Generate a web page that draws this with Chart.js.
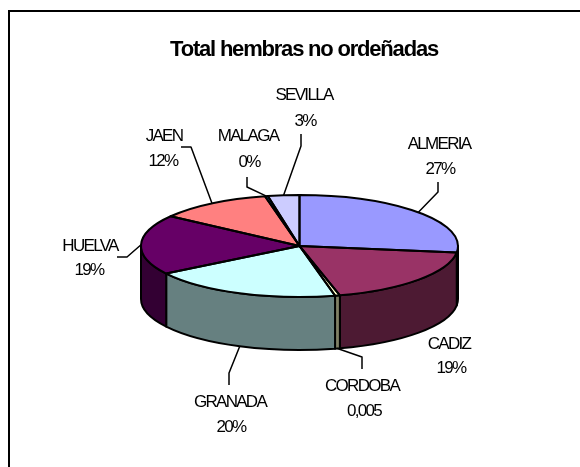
<!DOCTYPE html>
<html>
<head>
<meta charset="utf-8">
<style>
html,body{margin:0;padding:0;background:#fff;overflow:hidden}
#wrap{position:relative;width:580px;height:467px;overflow:hidden}
canvas{position:absolute;left:0;top:0}
#frame{position:absolute;left:8px;top:10px;width:600px;height:500px;border-left:2px solid #000;border-top:2px solid #000}
</style>
<script src="https://cdn.jsdelivr.net/npm/chart.js@4"></script>
</head>
<body>
<div id="wrap"><div id="frame"></div><canvas id="c" width="580" height="467"></canvas></div>
<script>
const titleText = 'Total hembras no ordeñadas';
const categories = ['ALMERIA','CADIZ','CORDOBA','GRANADA','HUELVA','JAEN','MALAGA','SEVILLA'];
const values = [27, 18.9, 0.5, 19.5, 19, 11.6, 0.3, 3.2];
const valueLabels = ['27%','19%','0,005','20%','19%','12%','0%','3%'];
const topColors = ['#9999FF','#993366','#FFFFCC','#CCFFFF','#660066','#FF8080','#0066CC','#CCCCFF'];
const sideColors = ['#4D4D80','#4D1A33','#808066','#668080','#330033','#804040','#003366','#666680'];
// label layout: centre x, first line y, second line x, second line y
const labelX  = [439,449,362,230,90,164,248,304];
const labelY  = [144,344,386,402,246,136,136,95];
const valueX  = [440,451,364,231,89,163,249,305];
const valueY  = [169,368,411,427,270,161,162,121];
// leader: elbow then end near the label (null = no leader)
const leaders = [
  [[438,192],[438,182]], null, [[362,357],[362,369]], [[229,373],[229,385]],
  [[127,257],[117,257]], [[191,147],[181,147]], [[247,187],[247,177]], [[301,146],[301,134]]
];
const squash = 51/158.5, depth = 53;

const pie3d = {
  id:'pie3d',
  beforeDatasetsDraw(chart){
    const ctx = chart.ctx, arcs = chart.getDatasetMeta(0).data;
    ctx.save();
    ctx.lineWidth = 2; ctx.strokeStyle = '#000'; ctx.lineJoin='round';
    arcs.forEach((el,i)=>{
      const {x,y,outerRadius:r,startAngle,endAngle} = el.getProps(['x','y','outerRadius','startAngle','endAngle'],true);
      const a = Math.max(startAngle,0), b = Math.min(endAngle,Math.PI);
      if (b <= a) return;
      const ry = r*squash;
      ctx.beginPath();
      ctx.ellipse(x,y,r,ry,0,a,b);
      ctx.lineTo(x+r*Math.cos(b), y+ry*Math.sin(b)+depth);
      ctx.ellipse(x,y+depth,r,ry,0,b,a,true);
      ctx.closePath();
      ctx.fillStyle = sideColors[i];
      ctx.fill(); ctx.stroke();
    });
    ctx.restore();
    const cy = arcs[0].y;
    ctx.save();
    ctx.translate(0,cy); ctx.scale(1,squash); ctx.translate(0,-cy);
  },
  afterDatasetsDraw(chart){
    const ctx = chart.ctx, arcs = chart.getDatasetMeta(0).data;
    ctx.restore();
    ctx.save();
    ctx.lineWidth = 2; ctx.strokeStyle = '#000'; ctx.lineJoin='round';
    arcs.forEach(el=>{
      const {x,y,outerRadius:r,startAngle,endAngle} = el.getProps(['x','y','outerRadius','startAngle','endAngle'],true);
      ctx.beginPath();
      ctx.moveTo(x,y);
      ctx.ellipse(x,y,r,r*squash,0,startAngle,endAngle);
      ctx.closePath();
      ctx.stroke();
    });
    // leaders
    ctx.lineWidth = 1.5;
    arcs.forEach((el,i)=>{
      if(!leaders[i]) return;
      const {x,y,outerRadius:r,startAngle,endAngle} = el.getProps(['x','y','outerRadius','startAngle','endAngle'],true);
      const m = (startAngle+endAngle)/2, ry=r*squash;
      const front = Math.sin(m)>0;
      ctx.beginPath();
      ctx.moveTo(x+r*Math.cos(m), y+ry*Math.sin(m)+(front?depth:0));
      leaders[i].forEach(p=>ctx.lineTo(p[0],p[1]));
      ctx.stroke();
    });
    // texts
    ctx.fillStyle='#000'; ctx.textAlign='center'; ctx.textBaseline='middle';
    ctx.font='17px "Liberation Sans", Arial, sans-serif';
    ctx.letterSpacing='-1.7px';
    categories.forEach((name,i)=>{
      ctx.fillText(name,labelX[i],labelY[i]);
      ctx.fillText(valueLabels[i],valueX[i],valueY[i]);
    });
    ctx.font='bold 22px "Liberation Sans", Arial, sans-serif';
    ctx.letterSpacing='-1.2px';
    ctx.fillText(titleText,304,50);
    ctx.restore();
  }
};

new Chart(document.getElementById('c'),{
  type:'pie',
  data:{labels:categories,datasets:[{data:values,backgroundColor:topColors,borderWidth:0}]},
  options:{
    responsive:false,animation:false,
    layout:{padding:{left:141,right:122,top:87.5,bottom:62.5}},
    plugins:{legend:{display:false},tooltip:{enabled:false},title:{display:false}}
  },
  plugins:[pie3d]
});
</script>
</body>
</html>
